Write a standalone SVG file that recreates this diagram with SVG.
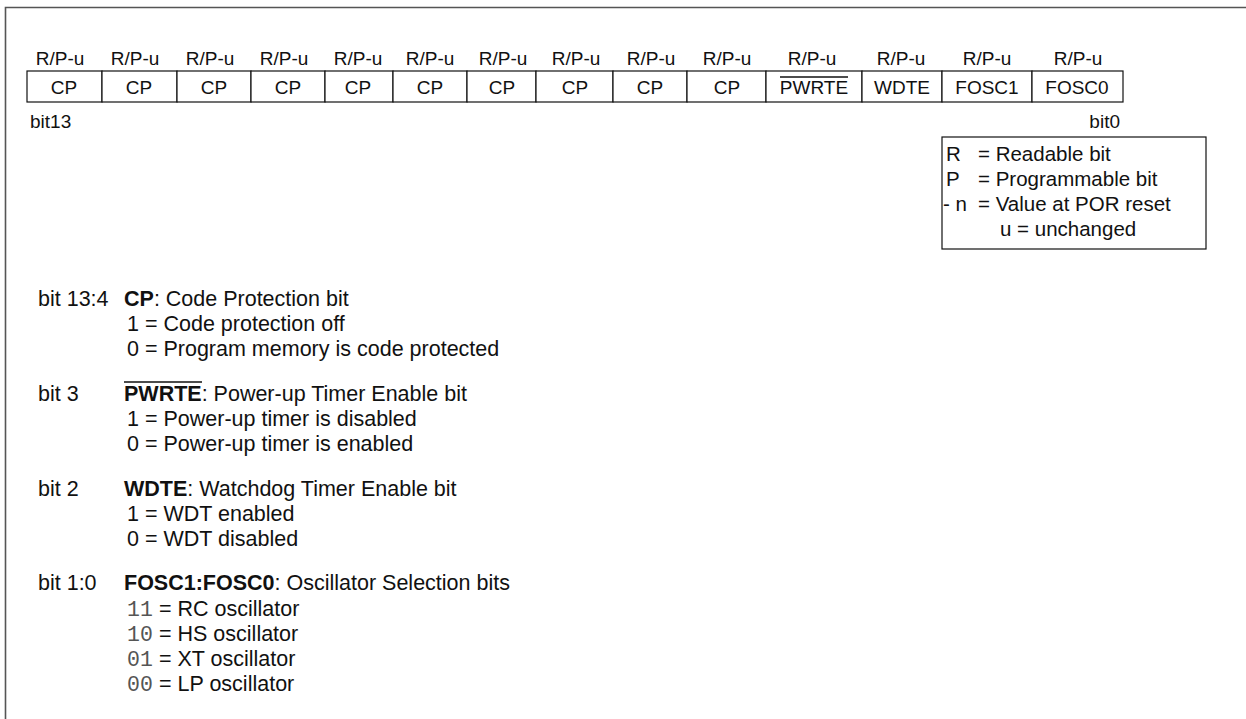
<svg xmlns="http://www.w3.org/2000/svg" width="1246" height="719" viewBox="0 0 1246 719">
<style>
text{font-family:"Liberation Sans",Arial,sans-serif;fill:#111}
.r{font-size:19px}
.l{font-size:20.5px}
.d{font-size:21.5px}
.c{text-anchor:middle}
.b{font-weight:bold}
.m{font-family:"Liberation Mono","Courier New",monospace;fill:#555}
.cell{fill:#fff;stroke:#111;stroke-width:1.2}
.frame{fill:none;stroke:#555;stroke-width:1.6}
.ov{stroke:#111;stroke-width:1.3}
</style>
<rect width="1246" height="719" fill="#fff"/>
<path class="frame" d="M5.5,719 V7.5 H1246"/>
<g id="register">
<g id="access-labels">
<text class="r c" x="60" y="65">R/P-u</text>
<text class="r c" x="135" y="65">R/P-u</text>
<text class="r c" x="210" y="65">R/P-u</text>
<text class="r c" x="284" y="65">R/P-u</text>
<text class="r c" x="358" y="65">R/P-u</text>
<text class="r c" x="430" y="65">R/P-u</text>
<text class="r c" x="503" y="65">R/P-u</text>
<text class="r c" x="576" y="65">R/P-u</text>
<text class="r c" x="651" y="65">R/P-u</text>
<text class="r c" x="727" y="65">R/P-u</text>
<text class="r c" x="812" y="65">R/P-u</text>
<text class="r c" x="901" y="65">R/P-u</text>
<text class="r c" x="987" y="65">R/P-u</text>
<text class="r c" x="1078" y="65">R/P-u</text>
</g>
<g id="cell13"><rect class="cell" x="27" y="71" width="75" height="31"/><text class="r c" x="64" y="93.5">CP</text></g>
<g id="cell12"><rect class="cell" x="102" y="71" width="75" height="31"/><text class="r c" x="139" y="93.5">CP</text></g>
<g id="cell11"><rect class="cell" x="177" y="71" width="74" height="31"/><text class="r c" x="214" y="93.5">CP</text></g>
<g id="cell10"><rect class="cell" x="251" y="71" width="74" height="31"/><text class="r c" x="288" y="93.5">CP</text></g>
<g id="cell9"><rect class="cell" x="325" y="71" width="68" height="31"/><text class="r c" x="358" y="93.5">CP</text></g>
<g id="cell8"><rect class="cell" x="393" y="71" width="74" height="31"/><text class="r c" x="430" y="93.5">CP</text></g>
<g id="cell7"><rect class="cell" x="467" y="71" width="69" height="31"/><text class="r c" x="502" y="93.5">CP</text></g>
<g id="cell6"><rect class="cell" x="536" y="71" width="77" height="31"/><text class="r c" x="575" y="93.5">CP</text></g>
<g id="cell5"><rect class="cell" x="613" y="71" width="74" height="31"/><text class="r c" x="650" y="93.5">CP</text></g>
<g id="cell4"><rect class="cell" x="687" y="71" width="79" height="31"/><text class="r c" x="727" y="93.5">CP</text></g>
<g id="cell3"><rect class="cell" x="766" y="71" width="96" height="31"/><text class="r c" x="814" y="93.5">PWRTE</text><line class="ov" x1="780" y1="77" x2="848" y2="77"/></g>
<g id="cell2"><rect class="cell" x="862" y="71" width="80" height="31"/><text class="r c" x="902" y="93.5">WDTE</text></g>
<g id="cell1"><rect class="cell" x="942" y="71" width="90" height="31"/><text class="r c" x="987" y="93.5">FOSC1</text></g>
<g id="cell0"><rect class="cell" x="1032" y="71" width="91" height="31"/><text class="r c" x="1077" y="93.5">FOSC0</text></g>
<text class="r" x="30" y="128">bit13</text>
<text class="r" x="1120" y="128" text-anchor="end">bit0</text>
</g>
<g id="legend">
<rect x="942" y="137" width="264" height="112" fill="#fff" stroke="#111" stroke-width="1.2"/>
<text class="l" x="946" y="161">R</text><text class="l" x="978" y="161">= Readable bit</text>
<text class="l" x="946" y="186">P</text><text class="l" x="978" y="186">= Programmable bit</text>
<text class="l" x="943" y="211">- n</text><text class="l" x="978" y="211">= Value at POR reset</text>
<text class="l" x="1000" y="236">u = unchanged</text>
</g>
<g id="descriptions">
<text class="d" x="38" y="306">bit 13:4</text>
<text class="d" x="124" y="306"><tspan class="b">CP</tspan>: Code Protection bit</text>
<text class="d" x="127" y="331">1 = Code protection off</text>
<text class="d" x="127" y="356">0 = Program memory is code protected</text>
<text class="d" x="38" y="401">bit 3</text>
<text class="d" x="124" y="401"><tspan class="b">PWRTE</tspan>: Power-up Timer Enable bit</text>
<line class="ov" x1="124" y1="382" x2="202" y2="382"/>
<text class="d" x="127" y="426">1 = Power-up timer is disabled</text>
<text class="d" x="127" y="451">0 = Power-up timer is enabled</text>
<text class="d" x="38" y="496">bit 2</text>
<text class="d" x="124" y="496"><tspan class="b">WDTE</tspan>: Watchdog Timer Enable bit</text>
<text class="d" x="127" y="521">1 = WDT enabled</text>
<text class="d" x="127" y="546">0 = WDT disabled</text>
<text class="d" x="38" y="590">bit 1:0</text>
<text class="d" x="124" y="590"><tspan class="b">FOSC1:FOSC0</tspan>: Oscillator Selection bits</text>
<text class="d m" x="127" y="616">11</text><text class="d" x="159" y="616">= RC oscillator</text>
<text class="d m" x="127" y="641">10</text><text class="d" x="159" y="641">= HS oscillator</text>
<text class="d m" x="127" y="666">01</text><text class="d" x="159" y="666">= XT oscillator</text>
<text class="d m" x="127" y="691">00</text><text class="d" x="159" y="691">= LP oscillator</text>
</g>
</svg>
